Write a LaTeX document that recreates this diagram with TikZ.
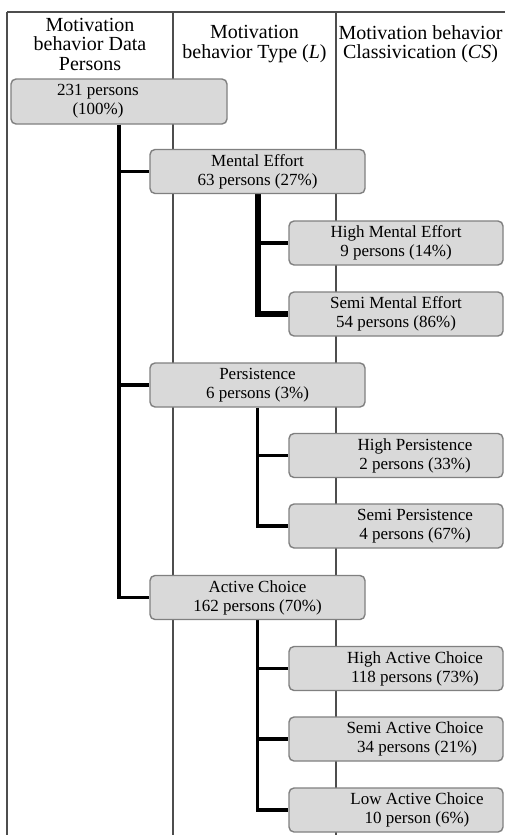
\documentclass[tikz,border=0pt]{standalone}
\usepackage{fontspec}
\setmainfont{Liberation Serif}
\definecolor{boxfill}{HTML}{D9D9D9}
\definecolor{boxline}{HTML}{808080}
\definecolor{gridline}{HTML}{4D4D4D}
\begin{document}
\begin{tikzpicture}[x=1pt,y=-1pt,
  box/.style={draw=boxline,fill=boxfill,line width=1.4pt,rounded corners=5pt,
    minimum height=44pt,inner sep=0pt},
  bigbox/.style={box,minimum width=215pt},
  subbox/.style={box,minimum width=214pt},
  txt/.style={align=center,font=\fontsize{17}{19}\selectfont,inner sep=0pt},
  head/.style={align=center,font=\fontsize{20}{19.5}\selectfont,inner sep=0pt},
  grid/.style={draw=gridline,line width=1.3pt},
  conn/.style={draw=black,line width=3.8pt},
]
\useasboundingbox (0,0) rectangle (505,835);
% table frame
\coordinate (tl) at (7,12);
\coordinate (tr) at (505,12);
\coordinate (c1t) at (173,12);
\coordinate (c2t) at (336,12);
\coordinate (bl) at (7,835);
\coordinate (c1b) at (173,835);
\coordinate (c2b) at (336,835);
\draw[grid] (tl) -- (tr);
\draw[grid] (tl) -- (bl);
\draw[grid] (c1t) -- (c1b);
\draw[grid] (c2t) -- (c2b);
% headers
\node[head] (h1) at (90,44) {Motivation\\behavior Data\\Persons};
\node[head] (h2) at (254.5,44) {Motivation\\behavior Type (\textit{L})};
\node[head] (h3) at (420.5,44) {Motivation behavior\\Classivication (\textit{CS})};
% boxes (positions)
\coordinate (pr) at (119,101.5);
\coordinate (pme) at (257.5,171.5);
\coordinate (pp) at (257.5,385);
\coordinate (pac) at (257.5,597.5);
\coordinate (phme) at (396,243);
\coordinate (psme) at (396,314);
\coordinate (php) at (396,455.5);
\coordinate (psp) at (396,526);
\coordinate (phac) at (396,668.5);
\coordinate (psac) at (396,739);
\coordinate (plac) at (396,810);
% connectors (drawn first, boxes on top)
\path (pr) node[box,minimum width=216pt,minimum height=45pt,draw=none,fill=none] (root) {}
      (pme) node[bigbox,draw=none,fill=none] (me) {}
      (pp) node[bigbox,draw=none,fill=none] (pe) {}
      (pac) node[bigbox,draw=none,fill=none] (ac) {}
      (phme) node[subbox,draw=none,fill=none] (hme) {}
      (psme) node[subbox,draw=none,fill=none] (sme) {}
      (php) node[subbox,draw=none,fill=none] (hp) {}
      (psp) node[subbox,draw=none,fill=none] (sp) {}
      (phac) node[subbox,draw=none,fill=none] (hac) {}
      (psac) node[subbox,draw=none,fill=none] (sac) {}
      (plac) node[subbox,draw=none,fill=none] (lac) {};
\draw[conn] (root.south) |- (me.west);
\draw[conn] (root.south) |- (pe.west);
\draw[conn] (root.south) |- (ac.west);
\draw[conn,line width=6pt] (me.south) |- (sme.west);
\draw[conn,line width=4.6pt] (me.south) |- (hme.west);
\draw[conn] (pe.south) |- (hp.west);
\draw[conn] (pe.south) |- (sp.west);
\draw[conn] (ac.south) |- (hac.west);
\draw[conn] (ac.south) |- (sac.west);
\draw[conn] (ac.south) |- (lac.west);
% visible boxes
\node[box,minimum width=216pt,minimum height=45pt] (rootb) at (root.center) {};
\node[bigbox] (meb) at (me.center) {};
\node[bigbox] (peb) at (pe.center) {};
\node[bigbox] (acb) at (ac.center) {};
\node[subbox] (hmeb) at (hme.center) {};
\node[subbox] (smeb) at (sme.center) {};
\node[subbox] (hpb) at (hp.center) {};
\node[subbox] (spb) at (sp.center) {};
\node[subbox] (hacb) at (hac.center) {};
\node[subbox] (sacb) at (sac.center) {};
\node[subbox] (lacb) at (lac.center) {};
% texts
\node[txt,xshift=-21pt] (troot) at (rootb.center) {231 persons\\(100\%)};
\node[txt] (tme) at (meb.center) {Mental Effort\\63 persons (27\%)};
\node[txt] (tpe) at (peb.center) {Persistence\\6 persons (3\%)};
\node[txt] (tac) at (acb.center) {Active Choice\\162 persons (70\%)};
\node[txt] (thme) at (hmeb.center) {High Mental Effort\\9 persons (14\%)};
\node[txt] (tsme) at (smeb.center) {Semi Mental Effort\\54 persons (86\%)};
\node[txt,xshift=19pt] (thp) at (hpb.center) {High Persistence\\2 persons (33\%)};
\node[txt,xshift=19pt] (tsp) at (spb.center) {Semi Persistence\\4 persons (67\%)};
\node[txt,xshift=19pt] (thac) at (hacb.center) {High Active Choice\\118 persons (73\%)};
\node[txt,xshift=19pt] (tsac) at (sacb.center) {Semi Active Choice\\\ 34 persons (21\%)};
\node[txt,xshift=21pt] (tlac) at (lacb.center) {Low Active Choice\\10 person (6\%)};
\end{tikzpicture}
\end{document}
